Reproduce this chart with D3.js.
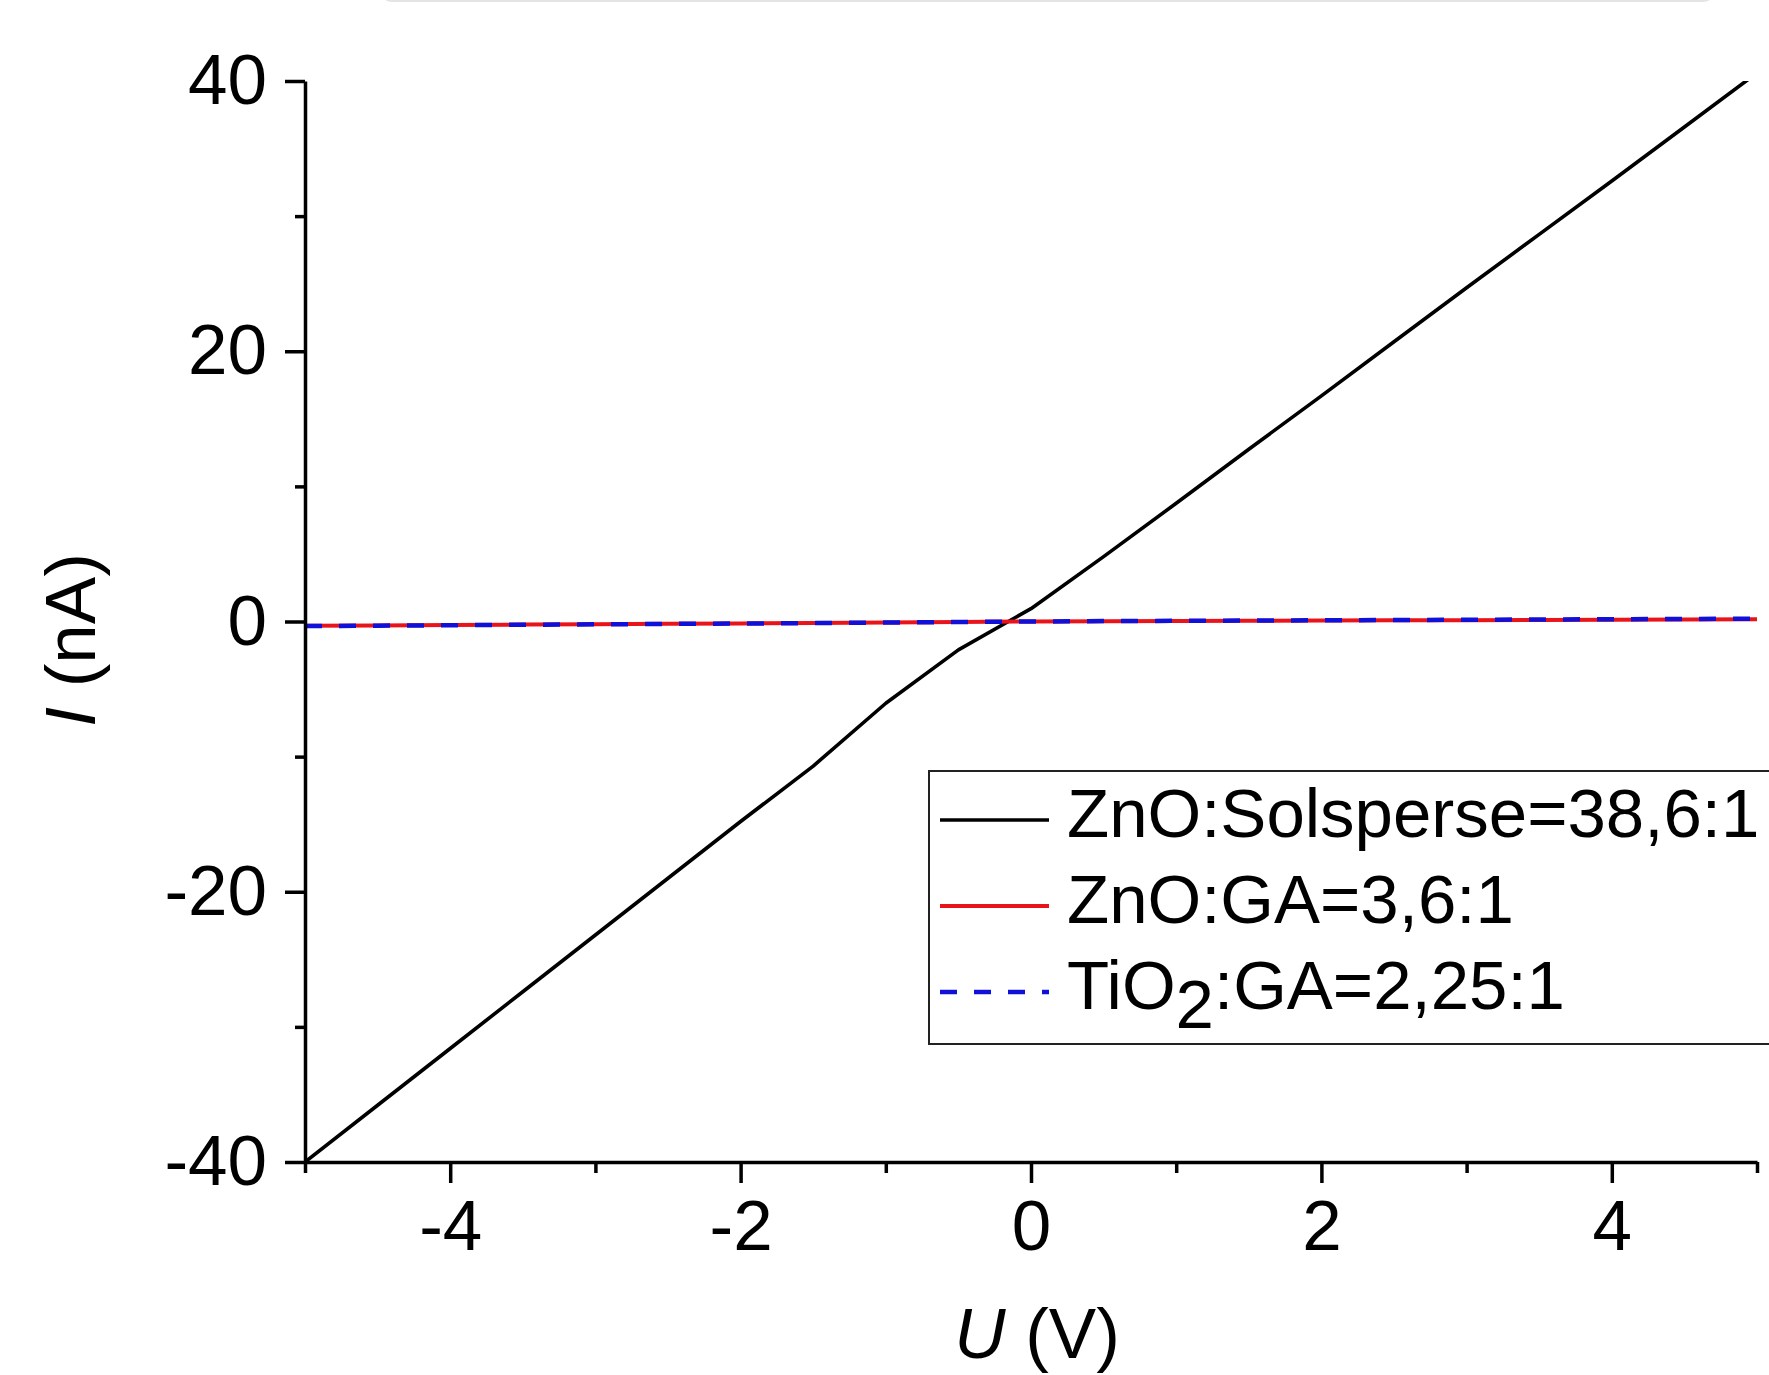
<!DOCTYPE html>
<html>
<head>
<meta charset="utf-8">
<script src="https://cdn.jsdelivr.net/npm/d3@7"></script>
<style>
  html, body { margin: 0; padding: 0; background: #fff; }
  svg { display: block; font-family: "Liberation Sans", Arial, sans-serif; }
</style>
</head>
<body>
<div id="chart"></div>
<script>
// voltage steps (V)
const voltage = [-5, -4.5, -4, -3.5, -3, -2.5, -2, -1.5, -1, -0.5, 0, 0.5, 1, 1.5, 2, 2.5, 3, 3.5, 4, 4.5, 5];

// current (nA)
const znoSolsperse = [-40, -35.8, -31.6, -27.4, -23.2, -19.0, -14.8, -10.7, -6.05, -2.1, 0.95, 4.8, 8.75, 12.75, 16.7, 20.7, 24.7, 28.65, 32.6, 36.6, 40.6];
const znoGA = [-0.32, -0.29, -0.26, -0.23, -0.2, -0.17, -0.14, -0.11, -0.08, -0.04, 0, 0.02, 0.04, 0.06, 0.07, 0.09, 0.1, 0.12, 0.13, 0.15, 0.16];
const tio2GA = [-0.34, -0.31, -0.28, -0.24, -0.21, -0.18, -0.15, -0.12, -0.08, -0.04, 0, 0.03, 0.05, 0.07, 0.09, 0.11, 0.13, 0.15, 0.17, 0.19, 0.21];

const seriesNames = ['ZnO:Solsperse=38,6:1', 'ZnO:GA=3,6:1', 'TiO2:GA=2,25:1'];

const xMajorTicks = [-4, -2, 0, 2, 4];
const xMinorTicks = [-5, -3, -1, 1, 3, 5];
const yMajorTicks = [-40, -20, 0, 20, 40];
const yMinorTicks = [-30, -10, 10, 30];

const width = 1769;
const height = 1375;
const plot = { left: 305, right: 1757, top: 81, bottom: 1162 };

const x = d3.scaleLinear().domain([-5, 5]).range([plot.left, plot.right]);
const y = d3.scaleLinear().domain([-40, 40]).range([plot.bottom, plot.top]);

const svg = d3.select('#chart')
  .append('svg')
  .attr('width', width)
  .attr('height', height);

// faint edge of a box cut off above the figure
svg.append('rect')
  .attr('x', 380)
  .attr('y', -40)
  .attr('width', 1335)
  .attr('height', 41)
  .attr('rx', 12)
  .attr('fill', 'none')
  .attr('stroke', '#e4e4e4')
  .attr('stroke-width', 2);

svg.append('clipPath')
  .attr('id', 'plot-clip')
  .append('rect')
  .attr('x', plot.left)
  .attr('y', plot.top)
  .attr('width', plot.right - plot.left)
  .attr('height', plot.bottom - plot.top);

const series = [
  { name: seriesNames[0], values: znoSolsperse, color: '#000000', width: 3.6, dash: null },
  { name: seriesNames[1], values: znoGA, color: '#e8141b', width: 4, dash: null },
  { name: seriesNames[2], values: tio2GA, color: '#1010d8', width: 4.5, dash: '17,17' }
];

const line = d3.line()
  .x(d => x(d[0]))
  .y(d => y(d[1]));

const lines = svg.append('g').attr('clip-path', 'url(#plot-clip)');

// draw black first, then red, blue dashes on top
lines.selectAll('path')
  .data(series)
  .enter().append('path')
  .attr('d', s => line(voltage.map((v, i) => [v, s.values[i]])))
  .attr('fill', 'none')
  .attr('stroke', s => s.color)
  .attr('stroke-width', s => s.width)
  .attr('stroke-dasharray', s => s.dash)
  .attr('stroke-linejoin', 'round');

// axes
svg.append('g')
  .attr('transform', `translate(0,${plot.bottom})`)
  .call(d3.axisBottom(x)
    .tickValues(xMajorTicks)
    .tickSize(21)
    .tickSizeOuter(0)
    .tickPadding(17)
    .tickFormat(d => String(d)));

svg.append('g')
  .attr('transform', `translate(0,${plot.bottom})`)
  .call(d3.axisBottom(x)
    .tickValues(xMinorTicks)
    .tickSize(11)
    .tickFormat(''))
  .call(g => g.select('.domain').remove());

svg.append('g')
  .attr('transform', `translate(${plot.left},0)`)
  .call(d3.axisLeft(y)
    .tickValues(yMajorTicks)
    .tickSize(20)
    .tickSizeOuter(0)
    .tickPadding(18)
    .tickFormat(d => String(d)));

svg.append('g')
  .attr('transform', `translate(${plot.left},0)`)
  .call(d3.axisLeft(y)
    .tickValues(yMinorTicks)
    .tickSize(10)
    .tickFormat(''))
  .call(g => g.select('.domain').remove());

svg.selectAll('.domain, .tick line')
  .attr('stroke', '#000')
  .attr('stroke-width', 3.5);

svg.selectAll('.tick text')
  .attr('fill', '#000')
  .style('font-size', '71px')
  .style('font-family', '"Liberation Sans", Arial, sans-serif');

// axis titles
const yTitle = svg.append('text')
  .attr('transform', 'translate(95,640) rotate(-90)')
  .attr('text-anchor', 'middle')
  .style('font-size', '71px');
yTitle.append('tspan').style('font-style', 'italic').text('I');
yTitle.append('tspan').text(' (nA)');

const xTitle = svg.append('text')
  .attr('x', 1037)
  .attr('y', 1358)
  .attr('text-anchor', 'middle')
  .style('font-size', '71px');
xTitle.append('tspan').style('font-style', 'italic').text('U');
xTitle.append('tspan').text(' (V)');

// legend
const legend = svg.append('g');

legend.append('rect')
  .attr('x', 929)
  .attr('y', 771)
  .attr('width', 900)
  .attr('height', 273)
  .attr('fill', '#fff')
  .attr('stroke', '#222')
  .attr('stroke-width', 2);

const rows = legend.selectAll('.row')
  .data(series)
  .enter().append('g')
  .attr('class', 'row')
  .attr('transform', (d, i) => `translate(0,${820 + i * 86})`);

rows.append('line')
  .attr('x1', 940)
  .attr('x2', 1049)
  .attr('stroke', d => d.color)
  .attr('stroke-width', d => d.width)
  .attr('stroke-dasharray', d => d.dash);

rows.append('text')
  .attr('x', 1067)
  .attr('y', 17)
  .style('font-size', '69px')
  .each(function(d) {
    const t = d3.select(this);
    const m = d.name.match(/^(TiO)2(.*)$/);
    if (m) {
      t.append('tspan').text(m[1]);
      t.append('tspan').attr('dy', 19).text('2');
      t.append('tspan').attr('dy', -19).text(m[2]);
    } else {
      t.text(d.name);
    }
  });
</script>
</body>
</html>
